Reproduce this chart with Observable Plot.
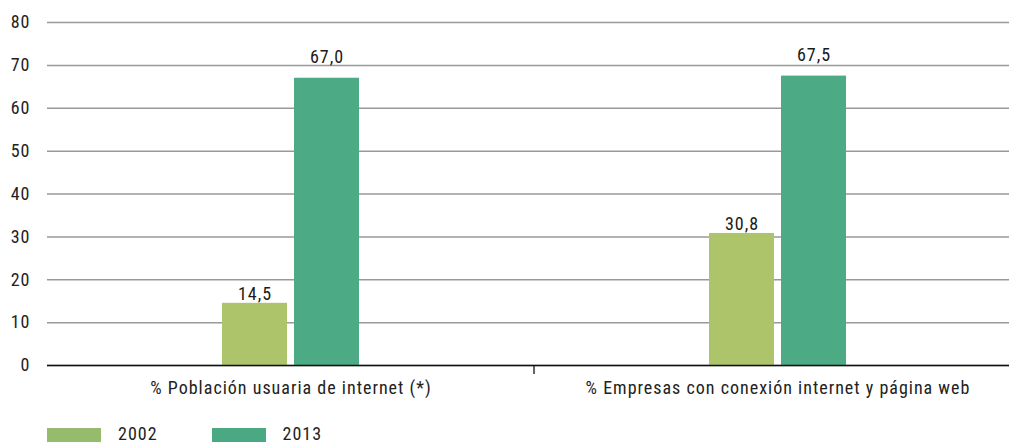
<!DOCTYPE html>
<html>
<head>
<meta charset="utf-8">
<script src="https://cdn.jsdelivr.net/npm/d3@7"></script>
<script src="https://cdn.jsdelivr.net/npm/@observablehq/plot@0.6"></script>
<style>
  html, body { margin: 0; padding: 0; background: #fff; }
  body { width: 1009px; height: 443px; overflow: hidden; font-family: "Roboto Condensed", "Liberation Sans Narrow", "DejaVu Sans Condensed", sans-serif; }
  #legend { display: flex; align-items: center; margin-left: 47px; margin-top: 16px; font-size: 18px; line-height: 18px; letter-spacing: 1px; color: #222; }
  .item { display: flex; align-items: center; margin-right: 54px; }
  .sw { width: 54px; height: 14px; margin-right: 17px; }
  .item span { position: relative; top: -1px; }
</style>
</head>
<body>
<div id="chart"></div>
<div id="legend"></div>
<script>
const categories = ["% Población usuaria de internet (*)", "% Empresas con conexión internet y página web"];
const years = ["2002", "2013"];
const values2002 = [14.5, 30.8];
const values2013 = [67.0, 67.5];
const colors = ["#adc46b", "#4caa84"];
const legendColors = ["#97bb6d", "#4aa882"];
const yTicks = [0, 10, 20, 30, 40, 50, 60, 70, 80];

const data = [];
categories.forEach((c, i) => {
  data.push({category: c, year: years[0], value: values2002[i]});
  data.push({category: c, year: years[1], value: values2013[i]});
});
const fmt = v => v.toFixed(1).replace(".", ",");

const font = '"Roboto Condensed", "Liberation Sans Narrow", "DejaVu Sans Condensed", sans-serif';

const plot = Plot.plot({
  width: 1009,
  height: 410,
  marginTop: 22,
  marginBottom: 45,
  marginLeft: 48,
  marginRight: 0,
  style: {fontFamily: font, fontSize: "18px", letterSpacing: "1px", color: "#222", background: "#fff"},
  fx: {domain: categories, range: [47, 1021], padding: 0, label: null},
  x: {domain: years, paddingInner: 0.0959, paddingOuter: 2.384, axis: null},
  y: {domain: [0, 80], label: null},
  color: {domain: years, range: colors},
  marks: [
    Plot.gridY(yTicks, {stroke: "#999", strokeOpacity: 1, strokeWidth: 1.5}),
    Plot.axisY(yTicks, {tickSize: 0, tickPadding: 17, label: null, fontSize: 18}),
    Plot.axisFx({anchor: "bottom", tickSize: 0, tickPadding: 16, label: null, fontSize: 18}),
    Plot.barY(data, {fx: "category", x: "year", y: "value", fill: "year"}),
    Plot.text(data.filter(d => d.year === years[0]), {fx: "category", x: "year", y: "value", text: d => fmt(d.value), dy: -9, fill: "#1a1a1a", fontSize: 18}),
    Plot.text(data.filter(d => d.year === years[1]), {fx: "category", x: "year", y: "value", text: d => fmt(d.value), dy: -21, fill: "#1a1a1a", fontSize: 18}),
    Plot.ruleY([0], {stroke: "#111", strokeWidth: 1.5})
  ]
});
document.getElementById("chart").appendChild(plot);

// separator tick between categories, positioned by the fx scale
const fx = plot.scale("fx");
const y = plot.scale("y");
const bx = fx.apply(categories[1]);
const y0 = y.apply(0);
d3.select(plot).append("line")
  .attr("x1", bx).attr("x2", bx)
  .attr("y1", y0).attr("y2", y0 + 9)
  .attr("stroke", "#111").attr("stroke-width", 1.3);

const legend = d3.select("#legend");
years.forEach((yr, i) => {
  const it = legend.append("div").attr("class", "item");
  it.append("div").attr("class", "sw").style("background", legendColors[i]);
  it.append("span").text(yr);
});
</script>
</body>
</html>
